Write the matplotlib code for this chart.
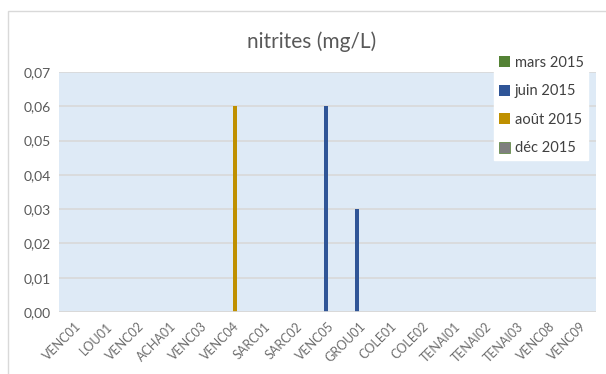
import matplotlib.pyplot as plt
import numpy as np
from matplotlib.patches import Rectangle

stations = ['VENC01', 'LOU01', 'VENC02', 'ACHA01', 'VENC03', 'VENC04', 'SARC01',
            'SARC02', 'VENC05', 'GROU01', 'COLE01', 'COLE02', 'TENAI01', 'TENAI02',
            'TENAI03', 'VENC08', 'VENC09']
series_names = ['mars 2015', 'juin 2015', 'août 2015', 'déc 2015']
mars = [0] * 17
juin = [0, 0, 0, 0, 0, 0, 0, 0, 0.06, 0.03, 0, 0, 0, 0, 0, 0, 0]
aout = [0, 0, 0, 0, 0, 0.06, 0, 0, 0, 0, 0, 0, 0, 0, 0, 0, 0]
dec = [0] * 17
values = [mars, juin, aout, dec]
colors = ['#548235', '#2F5597', '#BF9000', '#7F7F7F']
edges = ['#548235', '#2F5597', '#BF9000', '#548235']

plt.rcParams['font.family'] = ['Lato', 'DejaVu Sans']

fig = plt.figure(figsize=(6.06, 3.74), dpi=100)
# chart frame
fig.patches.append(Rectangle((8 / 606, -0.1), 1.0, 1 - 11 / 374 + 0.1,
                             transform=fig.transFigure, fill=False,
                             edgecolor='#D9D9D9', linewidth=1))
ax = fig.add_axes([59 / 606, 1 - 312 / 374, 537 / 606, 240 / 374])
ax.set_facecolor('#DEEAF6')

x = np.arange(len(stations))
w = 0.125
for i, (vals, name) in enumerate(zip(values, series_names)):
    ax.bar(x + (i - 1.5) * w, vals, width=w, color=colors[i], label=name,
           edgecolor=edges[i], linewidth=0.5 if i == 3 else 0)

ax.set_xlim(-0.5, len(stations) - 0.5)
ax.set_ylim(0, 0.07)
ax.set_yticks(np.arange(0, 0.0701, 0.01))
ax.set_yticklabels([f'{v:.2f}'.replace('.', ',') for v in np.arange(0, 0.0701, 0.01)],
                   color='#595959', fontsize=10)
ax.set_xticks(x)
ax.set_xticklabels(stations, rotation=45, ha='right', rotation_mode='anchor',
                   color='#6E6E6E', fontsize=9)
ax.tick_params(length=0, pad=6)
ax.grid(axis='y', color='#D9D9D9', linewidth=1.2)
ax.set_axisbelow(True)
for s in ax.spines.values():
    s.set_visible(False)
ax.axhline(0, color='#D9D9D9', linewidth=1.2)

fig.text(312 / 606, 1 - 42 / 374, 'nitrites (mg/L)', ha='center', va='center',
         fontsize=15, color='#595959')

leg = ax.legend(loc='upper left', bbox_to_anchor=(487 / 606, 1 - 44 / 374),
                bbox_transform=fig.transFigure, frameon=True, fancybox=False,
                edgecolor='white', facecolor='white', framealpha=1,
                fontsize=10.5, handlelength=0.8, handleheight=0.8,
                handletextpad=0.3, labelspacing=1.0, borderpad=0.3)
for t in leg.get_texts():
    t.set_color('#404040')

fig.savefig('out.png', dpi=100)
plt.close(fig)
